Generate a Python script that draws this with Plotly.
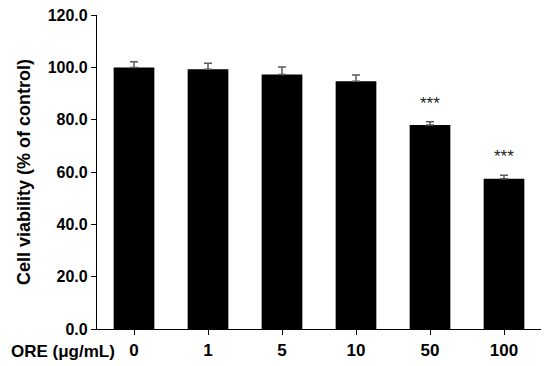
import plotly.graph_objects as go

doses = ['0', '1', '5', '10', '50', '100']
viability = [100.0, 99.3, 97.3, 94.7, 78.0, 57.4]
sd = [2.2, 2.3, 2.9, 2.4, 1.2, 1.4]
stars = ['', '', '', '', '***', '***']
y_ticks = [0, 20, 40, 60, 80, 100, 120]

font_bold = 'Liberation Sans, Arial, sans-serif'

fig = go.Figure()

fig.add_trace(go.Bar(x=list(range(len(doses))),
                     y=viability,
                     width=0.55,
                     marker=dict(color='black', line=dict(width=0)),
                     error_y=dict(type='data', array=sd, symmetric=False,
                                  arrayminus=[0] * len(sd),
                                  color='#5a5a5a', thickness=1.5, width=4)
                     ))

for i, (v, e, s) in enumerate(zip(viability, sd, stars)):
    if s:
        fig.add_annotation(x=i, y=v + e, text=s, showarrow=False,
                           yanchor='bottom', yshift=7,
                           font=dict(family='Liberation Sans, Arial', size=17, color='#222222'))

fig.add_annotation(x=0.045, y=0, xref='paper', yref='paper', text='<b>ORE (μg/mL)</b>',
                   showarrow=False, xanchor='right', yanchor='middle', yshift=-22,
                   font=dict(family=font_bold, size=17, color='black'))

# page body adds an 8px offset, so margins are shifted to compensate
fig.update_layout(width=550, height=366,
                  margin={"r": 17, "t": 7, "l": 89, "b": 45},
                  template='plotly_white',
                  plot_bgcolor='white',
                  paper_bgcolor='white',
                  showlegend=False)

fig.update_xaxes(showline=True, linecolor='black', linewidth=1.2,
                 ticks='outside', ticklen=5, tickcolor='black', tickwidth=1.2,
                 showgrid=False, range=[-0.5, 5.5], automargin=False,
                 tickmode='array', tickvals=list(range(len(doses))), ticktext=doses,
                 tickfont=dict(family=font_bold, size=17, color='black', weight='bold'))

fig.update_yaxes(showline=True, linecolor='black', linewidth=1.2,
                 ticks='outside', ticklen=5, tickcolor='black', tickwidth=1.2,
                 showgrid=False, zeroline=False, automargin=False,
                 range=[0, 120.05], tickmode='array', tickvals=y_ticks,
                 ticktext=[f'{t:.1f}' for t in y_ticks],
                 ticklabeloverflow='allow',
                 tickfont=dict(family=font_bold, size=16, color='black', weight='bold'),
                 title=dict(text='<b>Cell viability (% of control)</b>', standoff=12,
                            font=dict(family=font_bold, size=18, color='black')))

fig.write_html("out.html")
